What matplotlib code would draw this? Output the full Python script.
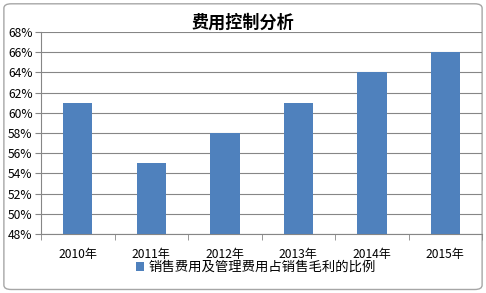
import matplotlib
matplotlib.use("Agg")
import matplotlib.pyplot as plt
from matplotlib.patches import FancyBboxPatch, Patch
from matplotlib.ticker import FuncFormatter, FixedLocator

plt.rcParams['font.family'] = ['Noto Sans CJK SC', 'DejaVu Sans']

categories = ["2010年", "2011年", "2012年", "2013年", "2014年", "2015年"]
values = [61, 55, 58, 61, 64, 66]
series_name = "销售费用及管理费用占销售毛利的比例"
title = "费用控制分析"
yticks = list(range(48, 69, 2))

bar_color = "#4F81BD"

fig = plt.figure(figsize=(4.86, 2.93), dpi=100)
fig.patch.set_facecolor("white")

frame = FancyBboxPatch((0.008, 0.012), 0.984, 0.975, boxstyle="round,pad=0,rounding_size=0.015",
                       transform=fig.transFigure, facecolor="none", edgecolor="#A6A6A6",
                       linewidth=1.0, zorder=-1)
fig.patches.append(frame)

ax = fig.add_axes([0.0844, 0.2014, 0.9076, 0.6894])
ax.set_facecolor("none")
x = list(range(len(categories)))
ax.bar(x, values, width=0.4, color=bar_color, zorder=3, label=series_name)
ax.set_ylim(48, 68)
ax.set_xlim(-0.5, len(categories) - 0.5)
ax.yaxis.set_major_locator(FixedLocator(yticks))
ax.yaxis.set_major_formatter(FuncFormatter(lambda v, p: f"{int(v)}%"))
ax.grid(axis="y", color="#868686", linewidth=0.8, zorder=0)
ax.set_axisbelow(True)

ax.set_xticks(x)
ax.set_xticklabels(categories, fontsize=8.7)
ax.tick_params(axis="x", length=0, pad=10)
ax.set_xticks([i + 0.5 for i in range(-1, len(categories))], minor=True)
ax.tick_params(axis="x", which="minor", length=4, color="#868686", direction="out")
ax.tick_params(axis="y", labelsize=8.7, length=4, color="#868686", pad=2)

for s in ["top", "right"]:
    ax.spines[s].set_visible(False)
ax.spines["left"].set_color("#868686")
ax.spines["bottom"].set_color("#868686")

fig.text(0.5, 0.922, title, ha="center", va="center", fontsize=12.3, fontweight="bold")

handle = Patch(facecolor=bar_color, edgecolor="none")
fig.legend([handle], [series_name], loc="center", bbox_to_anchor=(0.527, 0.088),
           frameon=False, fontsize=9.6, handlelength=0.6, handleheight=0.6,
           handletextpad=0.3, borderaxespad=0)

fig.savefig("out.png", dpi=100)
